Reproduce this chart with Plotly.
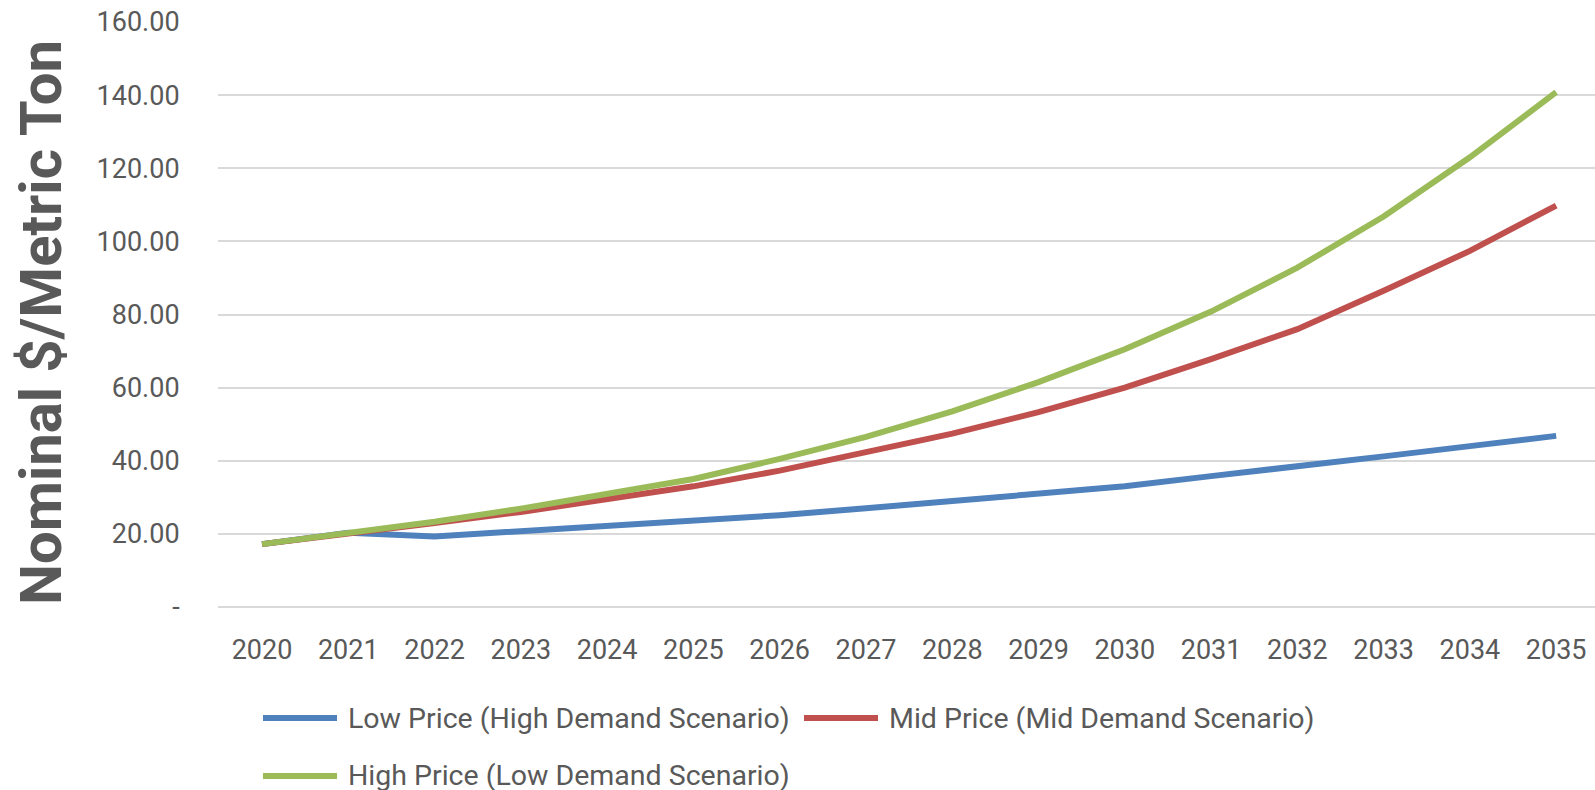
import plotly.graph_objects as go

# Carbon price projections, nominal $/metric ton
years = list(range(2020, 2036))
low_price = [17.2, 20.3, 19.3, 20.7, 22.0, 23.4, 25.1, 27.0, 29.0, 31.0, 33.0, 35.8, 38.3, 41.2, 44.0, 46.8]
mid_price = [17.2, 20.3, 23.0, 26.0, 29.5, 33.0, 37.3, 42.3, 47.4, 53.3, 60.0, 67.8, 76.0, 86.5, 97.4, 109.8]
high_price = [17.2, 20.3, 23.3, 26.9, 30.8, 35.0, 40.5, 46.5, 53.5, 61.5, 70.5, 80.8, 92.8, 106.8, 123.0, 140.8]

series_names = [
    "Low Price (High Demand Scenario)",
    "Mid Price (Mid Demand Scenario)",
    "High Price (Low Demand Scenario)",
]
series_values = [low_price, mid_price, high_price]
series_colors = ["#4F81BD", "#C0504D", "#9BBB59"]

y_tick_vals = [0, 20, 40, 60, 80, 100, 120, 140, 160]
y_tick_text = ["-", "20.00", "40.00", "60.00", "80.00", "100.00", "120.00", "140.00", "160.00"]

W, H = 1595, 790
M_L, M_R, M_T, M_B = 218, 0, 22, 183

FONT = "Roboto"
GREY = "#595959"


def px_x(px):
    return (px - M_L) / (W - M_L - M_R)


def px_y(py):
    return (H - M_B - py) / (H - M_T - M_B)


fig = go.Figure()
for name, vals, col in zip(series_names, series_values, series_colors):
    fig.add_trace(go.Scatter(
        x=years, y=vals, name=name, mode="lines",
        line=dict(color=col, width=6),
        showlegend=False,
    ))

# Legend drawn as swatch + label pairs (two entries on first row, one on second)
legend_items = [
    (series_names[0], series_colors[0], 263, 718),
    (series_names[1], series_colors[1], 804, 718),
    (series_names[2], series_colors[2], 263, 776),
]
shapes = []
annotations = []
for name, col, x0, yy in legend_items:
    shapes.append(dict(
        type="line", xref="paper", yref="paper",
        x0=px_x(x0), x1=px_x(x0 + 74), y0=px_y(yy), y1=px_y(yy),
        line=dict(color=col, width=6),
    ))
    annotations.append(dict(
        text=name, xref="paper", yref="paper",
        x=px_x(x0 + 83), y=px_y(yy), xanchor="left", yanchor="middle",
        showarrow=False, font=dict(family=FONT, size=28.5, color=GREY),
    ))

annotations.append(dict(
    text="<b>Nominal $/Metric Ton</b>", xref="paper", yref="paper",
    x=px_x(41), y=px_y(323), xanchor="center", yanchor="middle",
    textangle=-90, showarrow=False,
    font=dict(family=FONT, size=58, color=GREY),
))

fig.update_layout(
    width=W, height=H,
    margin=dict(l=M_L, r=M_R, t=M_T, b=M_B),
    paper_bgcolor="white", plot_bgcolor="white",
    shapes=shapes, annotations=annotations,
    font=dict(family=FONT, color=GREY),
    xaxis=dict(
        range=[2019.49, 2035.45],
        tickmode="array", tickvals=years, ticktext=[str(y) for y in years],
        showgrid=False, zeroline=False, showline=False,
        ticks="outside", ticklen=19, tickcolor="rgba(0,0,0,0)",
        tickfont=dict(family=FONT, size=27, color=GREY),
    ),
    yaxis=dict(
        range=[0, 160],
        tickmode="array", tickvals=y_tick_vals, ticktext=y_tick_text,
        showgrid=True, gridcolor="#D9D9D9", gridwidth=2,
        zeroline=True, zerolinecolor="#D9D9D9", zerolinewidth=2,
        showline=False,
        ticks="outside", ticklen=32, tickcolor="rgba(0,0,0,0)",
        tickfont=dict(family=FONT, size=27, color=GREY),
    ),
)

fig.write_html("out.html")
